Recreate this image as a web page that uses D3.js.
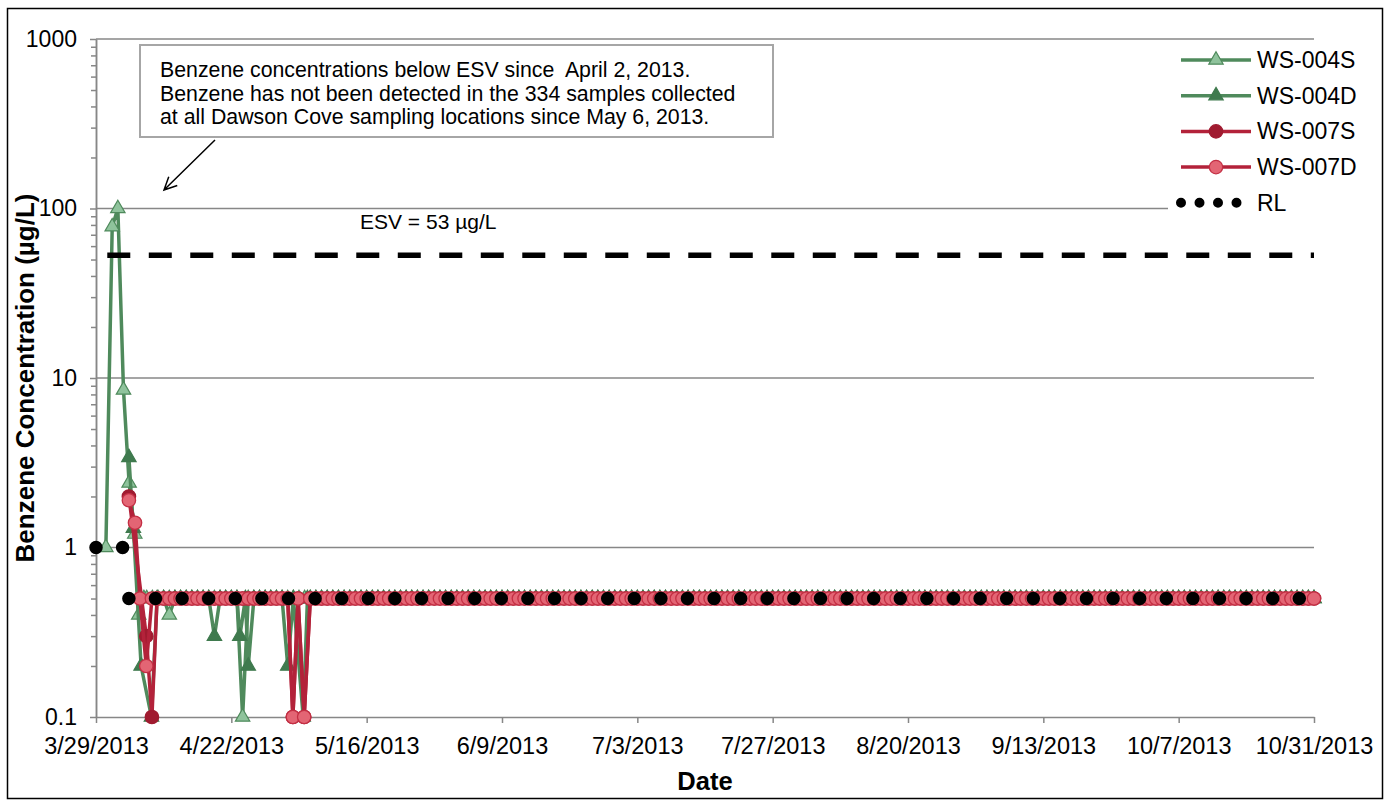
<!DOCTYPE html>
<html>
<head>
<meta charset="utf-8">
<script src="https://cdn.jsdelivr.net/npm/d3@7"></script>
<style>
  body { margin: 0; background: #fff; }
  svg { display: block; }
  text { font-family: "Liberation Sans", Arial, sans-serif; }
</style>
</head>
<body>
<svg id="chart" width="1387" height="803"></svg>
<script>
// ---------------------------------------------------------------
// Benzene results, Dawson Cove sampling stations, 2013
// Dates are "M/D" or "M/D HH:MM" (year 2013); values in µg/L.
// ---------------------------------------------------------------
const YEAR = 2013;

const xTickLabels = ["3/29/2013", "4/22/2013", "5/16/2013", "6/9/2013", "7/3/2013",
                     "7/27/2013", "8/20/2013", "9/13/2013", "10/7/2013", "10/31/2013"];
const yTickValues = [0.1, 1, 10, 100, 1000];
const yTickLabels = ["0.1", "1", "10", "100", "1000"];

const seriesNames = ["WS-004S", "WS-004D", "WS-007S", "WS-007D", "RL"];

// WS-004S (shallow)
const ws004sDates = ["3/30 18:00", "3/31 21:00", "4/1 21:00", "4/2 21:00", "4/3 21:00", "4/4 21:00",
  "4/5 14:00", "4/6 12:00",
  "4/7", "4/8", "4/9", "4/10", "4/11", "4/12", "4/13", "4/14", "4/15", "4/16", "4/17", "4/18",
  "4/19", "4/20", "4/21", "4/22", "4/23", "4/24", "4/25", "4/26", "4/27", "4/28", "4/29", "4/30",
  "5/1", "5/2", "5/3", "5/4", "5/5", "5/6"];
const ws004sValues = [1, 78, 100, 8.5, 2.4, 1.2,
  0.4, 0.5,
  0.5, 0.5, 0.5, 0.5, 0.4, 0.5, 0.5, 0.5, 0.5, 0.5, 0.5, 0.5,
  0.5, 0.5, 0.5, 0.5, 0.5, 0.1, 0.5, 0.5, 0.5, 0.5, 0.5, 0.5,
  0.5, 0.5, 0.5, 0.5, 0.5, 0.5];

// WS-004D (deep)
const ws004dDates = ["4/3 20:00", "4/4 15:00", "4/6", "4/7 20:00", "4/8 20:00",
  "4/10", "4/11", "4/12", "4/13", "4/14", "4/15", "4/16", "4/17", "4/18",
  "4/19", "4/20", "4/21", "4/22", "4/23", "4/23 12:00", "4/24 12:00", "4/25",
  "4/26", "4/27", "4/28", "4/29", "4/30", "5/1",
  "5/2", "5/3", "5/4 18:00", "5/5 12:00", "5/6"];
const ws004dValues = [3.4, 1.3, 0.2, 0.1, 0.5,
  0.5, 0.5, 0.5, 0.5, 0.5, 0.5, 0.5, 0.5, 0.5,
  0.3, 0.5, 0.5, 0.5, 0.5, 0.3, 0.5, 0.2,
  0.5, 0.5, 0.5, 0.5, 0.5, 0.5,
  0.2, 0.5, 0.1, 0.5, 0.5];

// WS-007S (shallow)
const ws007sDates = ["4/3 20:00", "4/6 22:00", "4/7 22:00", "4/8 20:00",
  "4/10", "4/11", "4/12", "4/13", "4/14", "4/15", "4/16", "4/17", "4/18", "4/19", "4/20",
  "4/21", "4/22", "4/23", "4/24", "4/25", "4/26", "4/27", "4/28", "4/29", "4/30",
  "5/1", "5/2", "5/2 22:00", "5/3 20:00", "5/4 22:00", "5/6"];
const ws007sValues = [2.0, 0.3, 0.1, 0.5,
  0.5, 0.5, 0.5, 0.5, 0.5, 0.5, 0.5, 0.5, 0.5, 0.5, 0.5,
  0.5, 0.5, 0.5, 0.5, 0.5, 0.5, 0.5, 0.5, 0.5, 0.5,
  0.5, 0.5, 0.1, 0.5, 0.1, 0.5];

// WS-007D (deep)
const ws007dDates = ["4/3 20:00", "4/4 22:00", "4/5 19:00", "4/6 22:00", "4/7 22:00", "4/8 20:00",
  "4/9", "4/10", "4/11", "4/12", "4/13", "4/14", "4/15", "4/16", "4/17", "4/18", "4/19", "4/20",
  "4/21", "4/22", "4/23", "4/24", "4/25", "4/26", "4/27", "4/28", "4/29", "4/30",
  "5/1", "5/2", "5/2 22:00", "5/3 20:00", "5/4 22:00", "5/6"];
const ws007dValues = [1.9, 1.4, 0.5, 0.2, 0.5, 0.5,
  0.5, 0.5, 0.5, 0.5, 0.5, 0.5, 0.5, 0.5, 0.5, 0.5, 0.5, 0.5,
  0.5, 0.5, 0.5, 0.5, 0.5, 0.5, 0.5, 0.5, 0.5, 0.5,
  0.5, 0.5, 0.1, 0.5, 0.1, 0.5];

// Routine daily sampling after May 6: every station non-detect, reported at the RL
const routineDates = [
  "5/7", "5/8", "5/9", "5/10", "5/11", "5/12", "5/13", "5/14", "5/15", "5/16", "5/17", "5/18", "5/19",
  "5/20", "5/21", "5/22", "5/23", "5/24", "5/25", "5/26", "5/27", "5/28", "5/29", "5/30", "5/31",
  "6/1", "6/2", "6/3", "6/4", "6/5", "6/6", "6/7", "6/8", "6/9", "6/10", "6/11", "6/12", "6/13", "6/14", "6/15",
  "6/16", "6/17", "6/18", "6/19", "6/20", "6/21", "6/22", "6/23", "6/24", "6/25", "6/26", "6/27", "6/28", "6/29", "6/30",
  "7/1", "7/2", "7/3", "7/4", "7/5", "7/6", "7/7", "7/8", "7/9", "7/10", "7/11", "7/12", "7/13", "7/14", "7/15", "7/16",
  "7/17", "7/18", "7/19", "7/20", "7/21", "7/22", "7/23", "7/24", "7/25", "7/26", "7/27", "7/28", "7/29", "7/30", "7/31",
  "8/1", "8/2", "8/3", "8/4", "8/5", "8/6", "8/7", "8/8", "8/9", "8/10", "8/11", "8/12", "8/13", "8/14", "8/15", "8/16",
  "8/17", "8/18", "8/19", "8/20", "8/21", "8/22", "8/23", "8/24", "8/25", "8/26", "8/27", "8/28", "8/29", "8/30", "8/31",
  "9/1", "9/2", "9/3", "9/4", "9/5", "9/6", "9/7", "9/8", "9/9", "9/10", "9/11", "9/12", "9/13", "9/14", "9/15",
  "9/16", "9/17", "9/18", "9/19", "9/20", "9/21", "9/22", "9/23", "9/24", "9/25", "9/26", "9/27", "9/28", "9/29", "9/30",
  "10/1", "10/2", "10/3", "10/4", "10/5", "10/6", "10/7", "10/8", "10/9", "10/10", "10/11", "10/12", "10/13", "10/14", "10/15", "10/16",
  "10/17", "10/18", "10/19", "10/20", "10/21", "10/22", "10/23", "10/24", "10/25", "10/26", "10/27", "10/28", "10/29", "10/30", "10/31"];
const routineValues = [
  0.5, 0.5, 0.5, 0.5, 0.5, 0.5, 0.5, 0.5, 0.5, 0.5, 0.5, 0.5, 0.5, 0.5, 0.5, 0.5, 0.5, 0.5, 0.5, 0.5,
  0.5, 0.5, 0.5, 0.5, 0.5, 0.5, 0.5, 0.5, 0.5, 0.5, 0.5, 0.5, 0.5, 0.5, 0.5, 0.5, 0.5, 0.5, 0.5, 0.5,
  0.5, 0.5, 0.5, 0.5, 0.5, 0.5, 0.5, 0.5, 0.5, 0.5, 0.5, 0.5, 0.5, 0.5, 0.5, 0.5, 0.5, 0.5, 0.5, 0.5,
  0.5, 0.5, 0.5, 0.5, 0.5, 0.5, 0.5, 0.5, 0.5, 0.5, 0.5, 0.5, 0.5, 0.5, 0.5, 0.5, 0.5, 0.5, 0.5, 0.5,
  0.5, 0.5, 0.5, 0.5, 0.5, 0.5, 0.5, 0.5, 0.5, 0.5, 0.5, 0.5, 0.5, 0.5, 0.5, 0.5, 0.5, 0.5, 0.5, 0.5,
  0.5, 0.5, 0.5, 0.5, 0.5, 0.5, 0.5, 0.5, 0.5, 0.5, 0.5, 0.5, 0.5, 0.5, 0.5, 0.5, 0.5, 0.5, 0.5, 0.5,
  0.5, 0.5, 0.5, 0.5, 0.5, 0.5, 0.5, 0.5, 0.5, 0.5, 0.5, 0.5, 0.5, 0.5, 0.5, 0.5, 0.5, 0.5, 0.5, 0.5,
  0.5, 0.5, 0.5, 0.5, 0.5, 0.5, 0.5, 0.5, 0.5, 0.5, 0.5, 0.5, 0.5, 0.5, 0.5, 0.5, 0.5, 0.5, 0.5, 0.5,
  0.5, 0.5, 0.5, 0.5, 0.5, 0.5, 0.5, 0.5, 0.5, 0.5, 0.5, 0.5, 0.5, 0.5, 0.5, 0.5, 0.5, 0.5];

// Reporting limit (null = break between the two RL periods)
const rlDates = ["3/29", "4/2 18:00", "4/3", "4/3 20:00", "10/31"];
const rlValues = [1, 1, null, 0.5, 0.5];

// Ecological screening value
const esvDates = ["3/31", "10/31"];
const esvValues = [53, 53];
const esvLabel = "ESV = 53 µg/L";

const noteLines = [
  "Benzene concentrations below ESV since  April 2, 2013.",
  "Benzene has not been detected in the 334 samples collected",
  "at all Dawson Cove sampling locations since May 6, 2013."
];

// ---------------------------------------------------------------
const parseStamp = d3.timeParse("%m/%d/%Y %H:%M");
const toDate = s => {
  const [md, hm = "00:00"] = s.split(" ");
  return parseStamp(`${md}/${YEAR} ${hm}`);
};
const parseTick = d3.timeParse("%m/%d/%Y");

function buildSeries(dates, values) {
  return dates.map((d, i) => ({ date: toDate(d), value: values[i] }));
}

const series = [
  { name: seriesNames[0], data: buildSeries(ws004sDates.concat(routineDates), ws004sValues.concat(routineValues)),
    line: "#4f8a5c", shape: "triangle", fill: "#8fc39c", stroke: "#4f8a5c" },
  { name: seriesNames[1], data: buildSeries(ws004dDates.concat(routineDates), ws004dValues.concat(routineValues)),
    line: "#4f8a5c", shape: "triangle", fill: "#3f7a4e", stroke: "#3f7a4e" },
  { name: seriesNames[2], data: buildSeries(ws007sDates.concat(routineDates), ws007sValues.concat(routineValues)),
    line: "#b3223a", shape: "circle", fill: "#a01b30", stroke: "#a01b30" },
  { name: seriesNames[3], data: buildSeries(ws007dDates.concat(routineDates), ws007dValues.concat(routineValues)),
    line: "#b3223a", shape: "circle", fill: "#e36574", stroke: "#c42f44" }
];

const FONT = '"Liberation Sans", Arial, sans-serif';
const axisGray = "#878787";
const plot = { left: 96, right: 1314, top: 39, bottom: 717 };

const svg = d3.select("#chart");

// chart frame
svg.append("rect")
  .attr("x", 7.5).attr("y", 8.5).attr("width", 1375).attr("height", 790)
  .attr("fill", "#fff").attr("stroke", "#000").attr("stroke-width", 1.5);

const xTicks = xTickLabels.map(parseTick);
const x = d3.scaleTime()
  .domain([xTicks[0], xTicks[xTicks.length - 1]])
  .range([plot.left, plot.right]);
const y = d3.scaleLog()
  .domain([yTickValues[0], yTickValues[yTickValues.length - 1]])
  .range([plot.bottom, plot.top]);

// horizontal gridlines at each decade
svg.append("g").selectAll("line")
  .data(yTickValues.slice(1))
  .join("line")
  .attr("x1", plot.left).attr("x2", plot.right)
  .attr("y1", d => y(d)).attr("y2", d => y(d))
  .attr("stroke", axisGray).attr("stroke-width", 1.5);

function styleAxis(g, size) {
  g.attr("font-family", FONT).attr("font-size", size);
  g.select(".domain").attr("stroke", axisGray).attr("stroke-width", 1.5);
  g.selectAll(".tick line").attr("stroke", axisGray).attr("stroke-width", 1.5);
  g.selectAll(".tick text").attr("fill", "#000");
}

// minor log ticks
const minorTicks = y.ticks().filter(t => !yTickValues.some(v => Math.abs(v - t) < 1e-9));
svg.append("g")
  .attr("transform", `translate(${plot.left},0)`)
  .call(d3.axisLeft(y).tickValues(minorTicks).tickFormat("").tickSize(5).tickSizeOuter(0))
  .call(g => styleAxis(g, 10));

// y axis
svg.append("g")
  .attr("transform", `translate(${plot.left},0)`)
  .call(d3.axisLeft(y).tickValues(yTickValues).tickFormat((d, i) => yTickLabels[i])
    .tickSize(6).tickPadding(13).tickSizeOuter(0))
  .call(g => styleAxis(g, 23));

// x axis
svg.append("g")
  .attr("transform", `translate(0,${plot.bottom})`)
  .call(d3.axisBottom(x).tickValues(xTicks).tickFormat((d, i) => xTickLabels[i])
    .tickSize(6).tickPadding(14).tickSizeOuter(0))
  .call(g => styleAxis(g, 23.5));

// axis titles
svg.append("text")
  .attr("x", (plot.left + plot.right) / 2).attr("y", 790)
  .attr("text-anchor", "middle").attr("font-size", 25.5).attr("font-weight", "bold")
  .text("Date");
svg.append("text")
  .attr("transform", `translate(34,${(plot.top + plot.bottom) / 2}) rotate(-90)`)
  .attr("text-anchor", "middle").attr("font-size", 26).attr("font-weight", "bold")
  .text("Benzene Concentration (µg/L)");

// data series
const line = d3.line()
  .defined(d => d.value != null)
  .x(d => x(d.date))
  .y(d => y(d.value));
const triangle = d3.symbol(d3.symbolTriangle, 90);

series.forEach(s => {
  const g = svg.append("g");
  g.append("path")
    .datum(s.data)
    .attr("d", line)
    .attr("fill", "none")
    .attr("stroke", s.line)
    .attr("stroke-width", 3.5)
    .attr("stroke-linejoin", "round");
  if (s.shape === "triangle") {
    g.selectAll("path.mk").data(s.data).join("path")
      .attr("class", "mk")
      .attr("d", triangle)
      .attr("transform", d => `translate(${x(d.date)},${y(d.value)})`)
      .attr("fill", s.fill).attr("stroke", s.stroke).attr("stroke-width", 1.2);
  } else {
    g.selectAll("circle").data(s.data).join("circle")
      .attr("cx", d => x(d.date)).attr("cy", d => y(d.value)).attr("r", 6.7)
      .attr("fill", s.fill).attr("stroke", s.stroke).attr("stroke-width", 1.3);
  }
});

// reporting limit (round-dot line), one path per period
const rlData = buildSeries(rlDates, rlValues);
const rlSegments = [];
let seg = [];
rlData.forEach(d => {
  if (d.value == null) { if (seg.length) rlSegments.push(seg); seg = []; }
  else seg.push(d);
});
if (seg.length) rlSegments.push(seg);
svg.append("g").selectAll("path").data(rlSegments).join("path")
  .attr("d", line)
  .attr("fill", "none").attr("stroke", "#000")
  .attr("stroke-width", 13.5).attr("stroke-linecap", "round")
  .attr("stroke-dasharray", "0 26.6");

// ESV dashed line and label
const esvData = buildSeries(esvDates, esvValues);
svg.append("path")
  .datum(esvData)
  .attr("d", line)
  .attr("fill", "none").attr("stroke", "#000")
  .attr("stroke-width", 5.5).attr("stroke-dasharray", "23 18.5");
svg.append("text")
  .attr("x", 360).attr("y", 229)
  .attr("font-size", 21)
  .text(esvLabel);

// legend
const legend = svg.append("g");
legend.append("rect")
  .attr("x", 1168).attr("y", 44).attr("width", 212).attr("height", 178)
  .attr("fill", "#fff");
const legendY = i => 60 + i * 35.7;
series.forEach((s, i) => {
  const gy = legendY(i);
  legend.append("line")
    .attr("x1", 1181).attr("x2", 1251).attr("y1", gy).attr("y2", gy)
    .attr("stroke", s.line).attr("stroke-width", 3.5);
  if (s.shape === "triangle") {
    legend.append("path").attr("d", triangle)
      .attr("transform", `translate(1216,${gy})`)
      .attr("fill", s.fill).attr("stroke", s.stroke).attr("stroke-width", 1.2);
  } else {
    legend.append("circle").attr("cx", 1216).attr("cy", gy).attr("r", 6.7)
      .attr("fill", s.fill).attr("stroke", s.stroke).attr("stroke-width", 1.3);
  }
  legend.append("text").attr("x", 1257).attr("y", gy + 8).attr("font-size", 23).text(s.name);
});
{
  const gy = legendY(4);
  legend.append("line")
    .attr("x1", 1181).attr("x2", 1237).attr("y1", gy).attr("y2", gy)
    .attr("stroke", "#000").attr("stroke-width", 10)
    .attr("stroke-linecap", "round").attr("stroke-dasharray", "0 18.5");
  legend.append("text").attr("x", 1257).attr("y", gy + 8).attr("font-size", 23).text(seriesNames[4]);
}

// note box with arrow
const note = svg.append("g");
note.append("rect")
  .attr("x", 140).attr("y", 45).attr("width", 633).attr("height", 92)
  .attr("fill", "#fff").attr("stroke", "#a6a6a6").attr("stroke-width", 2);
note.selectAll("text").data(noteLines).join("text")
  .attr("x", 160).attr("y", (d, i) => 77 + i * 23.5)
  .attr("font-size", 21.3)
  .attr("xml:space", "preserve")
  .style("white-space", "pre")
  .text(d => d);

const arrowFrom = [215, 140], arrowTo = [164, 190];
const ang = Math.atan2(arrowTo[1] - arrowFrom[1], arrowTo[0] - arrowFrom[0]);
const head = 14, spread = Math.PI / 7;
const h1 = [arrowTo[0] - head * Math.cos(ang - spread), arrowTo[1] - head * Math.sin(ang - spread)];
const h2 = [arrowTo[0] - head * Math.cos(ang + spread), arrowTo[1] - head * Math.sin(ang + spread)];
note.append("path")
  .attr("d", `M${arrowFrom}L${arrowTo}M${h1}L${arrowTo}L${h2}`)
  .attr("fill", "none").attr("stroke", "#000").attr("stroke-width", 1.5);
</script>
</body>
</html>
